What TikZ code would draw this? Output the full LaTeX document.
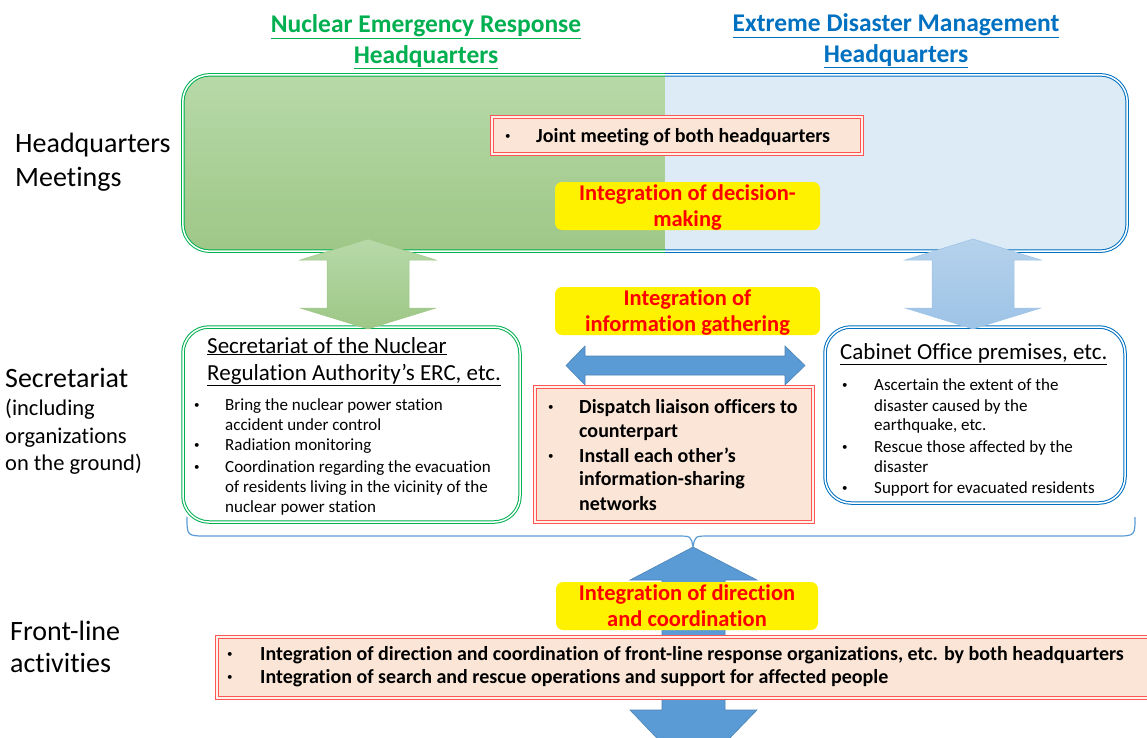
\documentclass[tikz,border=0pt]{standalone}
\usepackage{fontspec}
\setmainfont{Carlito}[Ligatures=CommonOff]
\definecolor{hqgreen}{RGB}{0,176,80}
\definecolor{hqblue}{RGB}{0,112,192}
\definecolor{redln}{RGB}{255,85,85}
\definecolor{pinkbg}{RGB}{251,229,214}
\definecolor{gtop}{RGB}{183,217,168}
\definecolor{gbot}{RGB}{158,199,135}
\definecolor{lblue}{RGB}{221,235,247}
\definecolor{arrlb}{RGB}{157,195,230}
\definecolor{arrdb}{RGB}{91,155,213}
\begin{document}
\begin{tikzpicture}[x=1pt,y=-1pt,
  hqlabel/.style={anchor=base west,inner sep=0,font=\fontsize{28}{34}\selectfont},
  sublabel/.style={anchor=base west,inner sep=0,font=\fontsize{22.5}{27}\selectfont},
  hqtitle/.style={anchor=base,inner sep=0,font=\bfseries\fontsize{25.5}{31}\selectfont},
  boxhead/.style={anchor=base west,inner sep=0,font=\fontsize{23}{27}\selectfont},
  item/.style={anchor=base west,inner sep=0,font=\fontsize{17}{20}\selectfont},
  bolditem/.style={anchor=base west,inner sep=0,font=\bfseries\fontsize{20}{24}\selectfont},
  dot/.style={anchor=base west,inner sep=0,font=\fontsize{11}{12}\selectfont},
  yellowtext/.style={anchor=base,inner sep=0,text=red,font=\bfseries\fontsize{22.5}{27}\selectfont},
  yellowbox/.style={fill=yellow,rounded corners=7,inner sep=0,minimum width=265,minimum height=48},
  pinkbox/.style={draw=redln,double=pinkbg!50!white,line width=1pt,double distance=1.5pt,fill=pinkbg,inner sep=0},
  greenbox/.style={draw=hqgreen,double=white,line width=1pt,double distance=1.5pt,fill=white,rounded corners=26,inner sep=0},
  bluebox/.style={draw=hqblue,double=white,line width=1pt,double distance=1.5pt,fill=white,rounded corners=26,inner sep=0},
  greenarrow/.style={top color=gtop,bottom color=gbot,draw=gbot,line width=.5pt},
  bluearrow/.style={top color=arrlb!75!white,bottom color=arrlb,draw=arrlb,line width=.5pt},
  darkarrow/.style={fill=arrdb,draw=arrdb!85!black,line width=.6pt}]
\useasboundingbox (0,0) rectangle (1147,737);
\clip (0,0) rectangle (1147,737);

\node[hqtitle,text=hqgreen] (tl1) at (426,32) {\underline{Nuclear Emergency Response}};
\node[hqtitle,text=hqgreen] (tl2) at (426,63) {\underline{Headquarters}};
\node[hqtitle,text=hqblue] (tr1) at (896,31) {\underline{Extreme Disaster Management}};
\node[hqtitle,text=hqblue] (tr2) at (896,62) {\underline{Headquarters}};

% headquarters meetings
\node[minimum width=944,minimum height=176,inner sep=0] (hq) at (655,163) {};
\begin{scope}
\clip (170,60) rectangle (665,265);
\draw[draw=hqgreen,double=white,line width=1pt,double distance=1.5pt,top color=gtop,bottom color=gbot,rounded corners=27] (hq.north west) rectangle (hq.south east);
\end{scope}
\begin{scope}
\clip (665,60) rectangle (1145,265);
\draw[draw=hqblue,double=white,line width=1pt,double distance=1.5pt,fill=lblue,rounded corners=27] (hq.north west) rectangle (hq.south east);
\end{scope}
\node[pinkbox,minimum width=370,minimum height=37] (joint) at (677,135.5) {};
\node[dot] (jb) at (505,139) {•};
\node[bolditem] (jt) at (536,142) {Joint meeting of both headquarters};
\node[yellowbox] (ydec) at (687.5,206) {};
\node[yellowtext] (yd1) at (687.5,200) {Integration of decision-};
\node[yellowtext] (yd2) at (687.5,226) {making};

\node[hqlabel] (m1) at (15,152) {Headquarters};
\node[hqlabel] (m2) at (15,186) {Meetings};
\node[hqlabel] (s1) at (5,387) {Secretariat};
\foreach \y/\t in {415/(including,443/organizations,470/on the ground)}
  \node[sublabel] (s\y) at (5,\y) {\t};
\node[hqlabel] (f1) at (10,640) {Front-line};
\node[hqlabel] (f2) at (10,672) {activities};

% secretariats
\node[greenbox,minimum width=337,minimum height=195] (secl) at (351.5,424.5) {};
\node[bluebox,minimum width=300,minimum height=176] (secr) at (975,415) {};
\foreach \x/\c in {368/greenarrow,973/bluearrow}
  \draw[\c] (\x,239) -- ++(68,21) -- ++(-27,0) -- ++(0,48) -- ++(27,0) -- ++(-68,21)
    -- ++(-68,-21) -- ++(27,0) -- ++(0,-48) -- ++(-27,0) -- cycle;
\node[boxhead] (hl1) at (207,353) {\underline{Secretariat of the Nuclear}};
\node[boxhead] (hl2) at (207,380) {\underline{Regulation Authority’s ERC, etc.}};
\foreach \y/\t in {410/Bring the nuclear power station,430/accident under control,450/Radiation monitoring,
  472/Coordination regarding the evacuation,492/of residents living in the vicinity of the,512/nuclear power station}
  \node[item] (l\y) at (225,\y) {\t};
\foreach \y in {410,450,472}
  \node[dot] (lb\y) at (194,\y-2) {•};
\node[boxhead] (hr) at (840,359) {\underline{Cabinet Office premises, etc.}};
\foreach \y/\t in {390/Ascertain the extent of the,411/disaster caused by the,430/{earthquake, etc.},
  452/Rescue those affected by the,472/disaster,493/Support for evacuated residents}
  \node[item] (r\y) at (874,\y) {\t};
\foreach \y in {390,452,493}
  \node[dot] (rb\y) at (842,\y-2) {•};

% information gathering
\node[yellowbox] (yinf) at (687.5,311) {};
\node[yellowtext] (yi1) at (687.5,305) {Integration of};
\node[yellowtext] (yi2) at (687.5,331) {information gathering};
\coordinate (ia) at (566,365.5);
\draw[darkarrow] (ia) -- ++(19,-19.5) -- ++(0,10) -- ++(200,0) -- ++(0,-10) -- ++(20,19.5)
  -- ++(-20,19.5) -- ++(0,-10) -- ++(-200,0) -- ++(0,10) -- cycle;
\node[pinkbox,minimum width=278,minimum height=135] (liaison) at (674,454.5) {};
\foreach \y/\t in {413/Dispatch liaison officers to,437/counterpart,462/Install each other’s,485/information-sharing,510/networks}
  \node[bolditem] (c\y) at (579,\y) {\t};
\foreach \y in {413,462}
  \node[dot] (cb\y) at (548,\y-3) {•};

% front-line
\draw[arrdb,line width=1.2pt] (187,517) .. controls (187,536) .. (207,536) -- (677,536)
  .. controls (691,536) .. (693,547) .. controls (695,536) .. (709,536) -- (1115,536)
  .. controls (1135,536) .. (1135,517);
\coordinate (brc) at (693,547);
\draw[darkarrow] (brc) -- ++(64,33) -- ++(-32,0) -- ++(0,130) -- ++(32,0) -- ++(-64,66)
  -- ++(-63,-66) -- ++(32,0) -- ++(0,-130) -- ++(-32,0) -- cycle;
\node[yellowbox,minimum width=262] (ydir) at (687,606) {};
\node[yellowtext] (yc1) at (687,600) {Integration of direction};
\node[yellowtext] (yc2) at (687,626) {and coordination};
\node[pinkbox,minimum width=960,minimum height=61] (front) at (697,667.5) {};
\node[dot] (fb1) at (227,657) {•};
\node[dot] (fb2) at (227,680) {•};
\node[bolditem] (ft1) at (260,660) {Integration of direction and coordination of front-line response organizations, etc. by both headquarters};
\node[bolditem] (ft2) at (260,683) {Integration of search and rescue operations and support for affected people};
\end{tikzpicture}
\end{document}
